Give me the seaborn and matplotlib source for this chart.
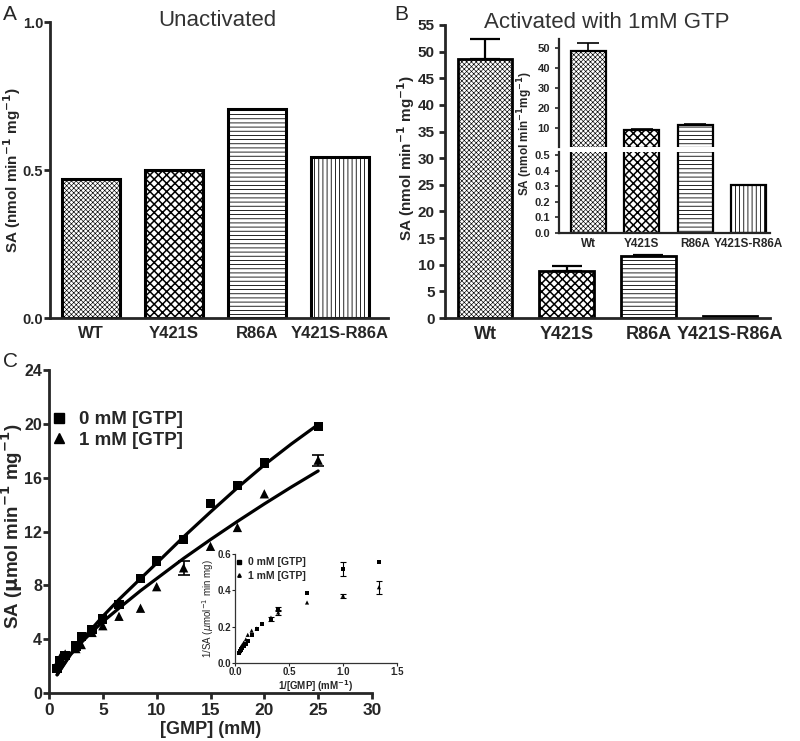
import numpy as np
import pandas as pd
import matplotlib
matplotlib.use('Agg')
import matplotlib.pyplot as plt
from matplotlib.lines import Line2D
import seaborn as sns

# ---- data ----
mutants_a = ['WT', 'Y421S', 'R86A', 'Y421S-R86A']
sa_unactivated = [0.47, 0.50, 0.705, 0.545]

mutants_b = ['Wt', 'Y421S', 'R86A', 'Y421S-R86A']
sa_activated = [48.6, 8.8, 11.6, 0.31]
sa_activated_err = [3.7, 0.9, 0.2, 0.0]

# panel C, rate vs substrate
gmp = [0.75, 1, 1.5, 2.5, 3, 4, 5, 6.5, 8.5, 10, 12.5, 15, 17.5, 20, 25]
sa_gtp0 = [1.8, 2.4, 2.8, 3.5, 4.2, 4.7, 5.5, 6.6, 8.5, 9.8, 11.4, 14.1, 15.4, 17.1, 19.8]
sa_gtp1 = [2.2, 2.6, 2.9, 3.3, 3.6, 4.5, 5.0, 5.7, 6.3, 7.9, 9.3, 10.9, 12.3, 14.8, 17.3]
err_gtp1 = {12.5: 0.5, 25: 0.4}

# fitted curves (traced)
fit_x = [0.75, 2, 3, 4, 5, 6.5, 8.5, 10, 12.5, 15, 17.5, 20, 22.5, 25]
fit_gtp0 = [1.35, 2.9, 3.9, 4.8, 5.7, 6.95, 8.5, 9.65, 11.6, 13.45, 15.25, 16.95, 18.5, 19.95]
fit_gtp1 = [1.35, 2.85, 3.75, 4.55, 5.3, 6.3, 7.6, 8.5, 10.0, 11.4, 12.75, 14.05, 15.3, 16.5]

# inset C, double reciprocal
inv_gmp = [1.333, 1.0, 0.667, 0.4, 0.333, 0.25, 0.2, 0.154, 0.118, 0.1, 0.08, 0.067, 0.057, 0.05, 0.04]
inv_sa_gtp0 = [0.558, 0.518, 0.384, 0.296, 0.243, 0.214, 0.187, 0.155, 0.119, 0.105, 0.092, 0.082, 0.074, 0.066, 0.055]
inv_sa_gtp1 = [0.417, 0.370, 0.333, 0.278, 0.250, 0.216, 0.190, 0.178, 0.155, 0.130, 0.112, 0.100, 0.090, 0.080, 0.062]
inv_err_gtp0 = {1.0: 0.04, 0.4: 0.012, 0.333: 0.01}
inv_err_gtp1 = {1.333: 0.035, 1.0: 0.01, 0.4: 0.012}

hatches = ['xxxxxxx', 'xxxx', '----', '||||']
hatch_lw = [0.45, 1.1, 0.6, 0.6]

sns.set_style('ticks')
plt.rcParams['font.family'] = ['Liberation Sans', 'DejaVu Sans']
plt.rcParams['hatch.linewidth'] = 0.6
plt.rcParams['axes.linewidth'] = 2.0
plt.rcParams['xtick.major.width'] = 2.0
plt.rcParams['ytick.major.width'] = 2.0
plt.rcParams['xtick.major.size'] = 4
plt.rcParams['ytick.major.size'] = 4

fig = plt.figure(figsize=(8, 7.41), dpi=100)


def fpos(left, top, right, bottom):
    # pixel box -> figure fraction
    return [left / 800, 1 - bottom / 741, (right - left) / 800, (bottom - top) / 741]


def ftext(x, y, s, **kw):
    return fig.text(x / 800, 1 - y / 741, s, **kw)


def hatch_bars(ax, lw):
    for patch, h, hl in zip(ax.patches, hatches, hatch_lw):
        patch.set_hatch(h)
        patch.set_facecolor('white')
        patch.set_edgecolor('black')
        patch.set_linewidth(lw)
        if hasattr(patch, 'set_hatch_linewidth'):
            patch.set_hatch_linewidth(hl)


def style_ax(ax, ytick_fs, xtick_fs):
    sns.despine(ax=ax)
    ax.tick_params(axis='y', labelsize=ytick_fs, direction='out')
    ax.tick_params(axis='x', labelsize=xtick_fs, direction='out')
    for lab in ax.get_xticklabels() + ax.get_yticklabels():
        lab.set_fontweight('bold')


# ---- Panel A ----
df_a = pd.DataFrame({'mutant': mutants_a, 'sa': sa_unactivated})
ax_a = fig.add_axes(fpos(50, 22, 388, 318))
sns.barplot(data=df_a, x='mutant', y='sa', ax=ax_a, color='white', width=0.69,
            errorbar=None)
hatch_bars(ax_a, 2.2)
ax_a.set_xlim(-0.494, 3.58)
ax_a.set_ylim(0, 1.0)
ax_a.set_yticks([0.0, 0.5, 1.0])
ax_a.set_yticklabels(['0.0', '0.5', '1.0'])
ax_a.set_xlabel('')
ax_a.set_ylabel('')
style_ax(ax_a, 10.5, 12)
ax_a.tick_params(axis='y', pad=1)
ax_a.tick_params(axis='x', length=0, pad=6)
ftext(12, 170, 'SA (nmol min$^{\\mathbf{-1}}$ mg$^{\\mathbf{-1}}$)', fontsize=11,
      fontweight='bold', rotation=90, ha='center', va='center')
ftext(217, 20, 'Unactivated', fontsize=16, color='#333333', ha='center', va='center')
ftext(3, 15, 'A', fontsize=15, va='center', ha='left')

# ---- Panel B ----
df_b = pd.DataFrame({'mutant': mutants_b, 'sa': sa_activated, 'err': sa_activated_err})
has_err = df_b['err'] > 0
ax_b = fig.add_axes(fpos(445, 25, 770, 318))
sns.barplot(data=df_b, x='mutant', y='sa', ax=ax_b, color='white', width=0.67,
            errorbar=None)
hatch_bars(ax_b, 2.0)
ax_b.errorbar(np.arange(4)[has_err], df_b['sa'][has_err],
              yerr=[np.zeros(has_err.sum()), df_b['err'][has_err]],
              fmt='none', ecolor='black', elinewidth=1.6, capsize=11, capthick=1.6)
ax_b.set_xlim(-0.49, 3.49)
ax_b.set_ylim(0, 55)
ax_b.set_yticks(range(0, 56, 5))
ax_b.set_xlabel('')
ax_b.set_ylabel('')
style_ax(ax_b, 11, 13)
ax_b.tick_params(axis='x', length=0, pad=6)
ftext(406, 158, 'SA (nmol min$^{\\mathbf{-1}}$ mg$^{\\mathbf{-1}}$)', fontsize=11,
      fontweight='bold', rotation=90, ha='center', va='center')
ftext(607, 22, 'Activated with 1mM GTP', fontsize=16, color='#333333',
      ha='center', va='center')
ftext(394, 15, 'B', fontsize=15, va='center', ha='left')

# inset B: broken y axis
ax_bu = fig.add_axes(fpos(559, 39, 770, 147))
ax_bl = fig.add_axes(fpos(559, 152, 770, 233))
for ax in (ax_bu, ax_bl):
    sns.barplot(data=df_b, x='mutant', y='sa', ax=ax, color='white', width=0.66,
                errorbar=None)
    hatch_bars(ax, 1.6)
    ax.set_xlim(-0.55, 3.4)
    ax.set_xlabel('')
    ax.set_ylabel('')
ax_bu.errorbar(np.arange(4)[has_err], df_b['sa'][has_err],
               yerr=[np.zeros(has_err.sum()), df_b['err'][has_err]],
               fmt='none', ecolor='black', elinewidth=1.2, capsize=8, capthick=1.2)
ax_bu.set_ylim(0.5, 54.5)
ax_bu.set_yticks([10, 20, 30, 40, 50])
# bars lying below the upper segment stay hidden there
for patch, v in zip(ax_bu.patches, sa_activated):
    if v < 0.5:
        patch.set_visible(False)
ax_bl.set_ylim(0, 0.52)
ax_bl.set_yticks(np.arange(0, 0.51, 0.1))
ax_bl.set_yticklabels(['0.0', '0.1', '0.2', '0.3', '0.4', '0.5'])
for ax in (ax_bu, ax_bl):
    sns.despine(ax=ax)
    for sp in ('left', 'bottom'):
        ax.spines[sp].set_linewidth(1.6)
    ax.tick_params(width=1.2, length=3, labelsize=8)
    for lab in ax.get_xticklabels() + ax.get_yticklabels():
        lab.set_fontweight('bold')
ax_bu.spines['bottom'].set_visible(False)
ax_bu.set_xticks([])
ax_bl.tick_params(axis='x', length=0, labelsize=8.5)
ftext(525, 134, 'SA (nmol min$^{\\mathbf{-1}}$mg$^{\\mathbf{-1}}$)',
      fontsize=8.5, fontweight='bold', rotation=90, ha='center', va='center')

# ---- Panel C ----
ax_c = fig.add_axes(fpos(49, 370, 372, 693))
df_c = pd.DataFrame({'gmp': gmp + gmp,
                     'sa': sa_gtp0 + sa_gtp1,
                     'gtp': ['0 mM [GTP]'] * len(gmp) + ['1 mM [GTP]'] * len(gmp)})
df_fit = pd.DataFrame({'gmp': fit_x + fit_x,
                       'sa': fit_gtp0 + fit_gtp1,
                       'gtp': ['0 mM [GTP]'] * len(fit_x) + ['1 mM [GTP]'] * len(fit_x)})
sns.lineplot(data=df_fit, x='gmp', y='sa', units='gtp', estimator=None, color='black',
             linewidth=2.3, ax=ax_c, legend=False)
sns.scatterplot(data=df_c, x='gmp', y='sa', style='gtp',
                markers={'0 mM [GTP]': 's', '1 mM [GTP]': '^'},
                color='black', s=45, edgecolor='black', linewidth=0, ax=ax_c,
                legend=False, zorder=3)
for xv, e in err_gtp1.items():
    yv = sa_gtp1[gmp.index(xv)]
    ax_c.errorbar(xv, yv, yerr=e, fmt='none', ecolor='black', elinewidth=1.2,
                  capsize=4, capthick=1.2)
ax_c.set_xlim(0, 30)
ax_c.set_ylim(0, 24)
ax_c.set_xticks(range(0, 31, 5))
ax_c.set_yticks(range(0, 25, 4))
ax_c.set_xlabel('')
ax_c.set_ylabel('')
style_ax(ax_c, 11.5, 12.5)
ax_c.tick_params(axis='y', pad=1)
ftext(211, 729, '[GMP] (mM)', fontsize=13, fontweight='bold', ha='center', va='center')
ftext(12, 526, 'SA ($\\mathbf{\\mu}$mol min$^{\\mathbf{-1}}$ mg$^{\\mathbf{-1}}$)', fontsize=13.5,
      fontweight='bold', rotation=90, ha='center', va='center')
handles = [Line2D([], [], marker='s', color='black', linestyle='none', markersize=7),
           Line2D([], [], marker='^', color='black', linestyle='none', markersize=7)]
ax_c.legend(handles, ['0 mM [GTP]', '1 mM [GTP]'], loc='upper left',
            bbox_to_anchor=(0.0, 0.873), frameon=False, handletextpad=0.5,
            borderpad=0, borderaxespad=0,
            labelspacing=0.2, prop={'size': 13.5, 'weight': 'bold'}, handlelength=1.1)
ftext(3, 361, 'C', fontsize=15, va='center', ha='left')

# inset C
ax_ci = fig.add_axes(fpos(235, 554, 397, 663))
df_ci = pd.DataFrame({'x': inv_gmp + inv_gmp,
                      'y': inv_sa_gtp0 + inv_sa_gtp1,
                      'gtp': ['0 mM [GTP]'] * len(inv_gmp) + ['1 mM [GTP]'] * len(inv_gmp)})
sns.scatterplot(data=df_ci, x='x', y='y', style='gtp',
                markers={'0 mM [GTP]': 's', '1 mM [GTP]': '^'},
                color='black', s=9, linewidth=0, ax=ax_ci, legend=False)
for errs, vals in ((inv_err_gtp0, inv_sa_gtp0), (inv_err_gtp1, inv_sa_gtp1)):
    for xv, e in errs.items():
        yv = vals[inv_gmp.index(xv)]
        ax_ci.errorbar(xv, yv, yerr=e, fmt='none', ecolor='black', elinewidth=0.8,
                       capsize=2, capthick=0.8)
ax_ci.set_xlim(0, 1.5)
ax_ci.set_ylim(0, 0.6)
ax_ci.set_xticks([0, 0.5, 1.0, 1.5])
ax_ci.set_xticklabels(['0.0', '0.5', '1.0', '1.5'])
ax_ci.set_yticks([0, 0.2, 0.4, 0.6])
ax_ci.set_yticklabels(['0.0', '0.2', '0.4', '0.6'])
sns.despine(ax=ax_ci)
for sp in ('left', 'bottom'):
    ax_ci.spines[sp].set_linewidth(0.9)
    ax_ci.spines[sp].set_color('#333333')
ax_ci.tick_params(width=0.8, length=2, labelsize=7, pad=1)
for lab in ax_ci.get_xticklabels() + ax_ci.get_yticklabels():
    lab.set_fontweight('bold')
ax_ci.set_xlabel('1/[GMP] (mM$^{\\mathbf{-1}}$)', fontsize=7, fontweight='bold', labelpad=1)
ax_ci.set_ylabel('1/SA ($\\mu$mol$^{-1}$ min mg)', fontsize=7, labelpad=1)
hi = [Line2D([], [], marker='s', color='black', linestyle='none', markersize=2.5),
      Line2D([], [], marker='^', color='black', linestyle='none', markersize=2.5)]
ax_ci.legend(hi, ['0 mM [GTP]', '1 mM [GTP]'], loc='upper left', bbox_to_anchor=(0.0, 0.97),
             frameon=False, handletextpad=0.4, labelspacing=0.35, handlelength=0.8,
             borderpad=0, borderaxespad=0,
             prop={'size': 7.5, 'weight': 'bold'})

fig.savefig('out.png', dpi=100)
